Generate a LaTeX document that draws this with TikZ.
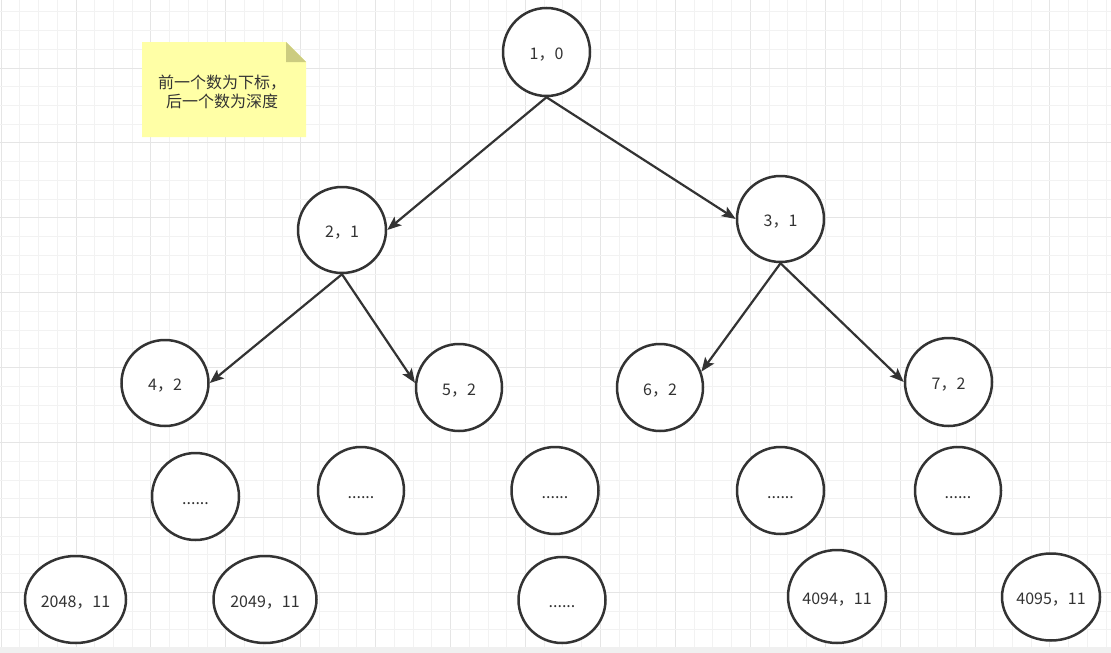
\documentclass[tikz,border=0pt]{standalone}
\usepackage{fontspec}
\newfontfamily\cjk{Noto Sans CJK SC}
\usetikzlibrary{shapes.geometric,arrows.meta}
\definecolor{ink}{RGB}{51,51,51}
\definecolor{gridminor}{RGB}{242,242,242}
\definecolor{gridmajor}{RGB}{229,229,229}
\definecolor{notefill}{RGB}{255,255,166}
\definecolor{notefold}{RGB}{204,204,128}
\definecolor{barfill}{RGB}{240,240,240}
\tikzset{
  treenode/.style={ellipse, draw=ink, line width=2.5pt, fill=white, inner sep=0pt,
    font=\cjk\fontsize{16}{19}\selectfont, text=ink, text height=15pt, text depth=0pt},
  link/.style={draw=ink, line width=2.2pt, -{Stealth[length=14pt,width=11pt,inset=3pt]}},
}
\begin{document}
\begin{tikzpicture}[x=1pt,y=-1pt]
\useasboundingbox (0,0) rectangle (1111,653);
\fill[white] (0,0) rectangle (1111,653);
% background grid: minor lines every 18.73, heavier every fourth
\foreach \k in {0,...,59}{
  \pgfmathsetmacro\gx{1.08+18.73*\k}
  \pgfmathtruncatemacro\m{mod(\k,4)}
  \ifnum\m=0
    \draw[gridmajor, line width=1pt] (\gx,0) -- (\gx,653);
  \else
    \draw[gridminor, line width=1pt] (\gx,0) -- (\gx,653);
  \fi
}
\foreach \k in {0,...,35}{
  \pgfmathsetmacro\gy{-6.92+18.73*\k}
  \pgfmathtruncatemacro\m{mod(\k,4)}
  \ifnum\m=0
    \draw[gridmajor, line width=1pt] (0,\gy) -- (1111,\gy);
  \else
    \draw[gridminor, line width=1pt] (0,\gy) -- (1111,\gy);
  \fi
}
\fill[barfill] (0,647) rectangle (1111,653);
% sticky note
\fill[notefill] (142,42) -- (286,42) -- (306,62) -- (306,137) -- (142,137) -- cycle;
\fill[notefold] (286,42) -- (286,62) -- (306,62) -- cycle;
\node[font=\cjk\fontsize{16}{19.5}\selectfont, text=ink, align=center, inner sep=0pt] (note)
  at (222,92) {前一个数为下标，\\后一个数为深度};
% tree nodes
\node[treenode, minimum width=87pt, minimum height=88pt] (n1) at (546.5,52) {1，0};
\node[treenode, minimum width=88pt, minimum height=86pt] (n2) at (342,230) {2，1};
\node[treenode, minimum width=87pt, minimum height=86pt] (n3) at (780.5,219) {3，1};
\node[treenode, minimum width=87pt, minimum height=86pt] (n4) at (165,383) {4，2};
\node[treenode, minimum width=86pt, minimum height=87pt] (n5) at (459,387.5) {5，2};
\node[treenode, minimum width=86pt, minimum height=87pt] (n6) at (660,387.5) {6，2};
\node[treenode, minimum width=87pt, minimum height=88pt] (n7) at (948.5,382) {7，2};
\node[treenode, minimum width=87pt, minimum height=87pt] (d1) at (195.5,496.5) {......};
\node[treenode, minimum width=86pt, minimum height=87pt] (d2) at (361,490.5) {......};
\node[treenode, minimum width=87pt, minimum height=87pt] (d3) at (555,490.5) {......};
\node[treenode, minimum width=87pt, minimum height=87pt] (d4) at (780.5,490.5) {......};
\node[treenode, minimum width=86pt, minimum height=87pt] (d5) at (958,490.5) {......};
\node[treenode, minimum width=101pt, minimum height=87pt] (b1) at (75.5,599.5) {2048，11};
\node[treenode, minimum width=103pt, minimum height=87pt] (b2) at (265,599.5) {2049，11};
\node[treenode, minimum width=87pt, minimum height=86pt] (b3) at (562,600) {......};
\node[treenode, minimum width=98pt, minimum height=93pt] (b4) at (837,596.5) {4094，11};
\node[treenode, minimum width=98pt, minimum height=87pt] (b5) at (1051,597) {4095，11};
% edges
\draw[link] (n1.south) -- (n2.east);
\draw[link] (n1.south) -- (n3.west);
\draw[link] (n2.south) -- (n4.east);
\draw[link] (n2.south) -- (n5.174);
\draw[link] (n3.south) -- (n6.21);
\draw[link] (n3.south) -- (n7.west);
\end{tikzpicture}
\end{document}
